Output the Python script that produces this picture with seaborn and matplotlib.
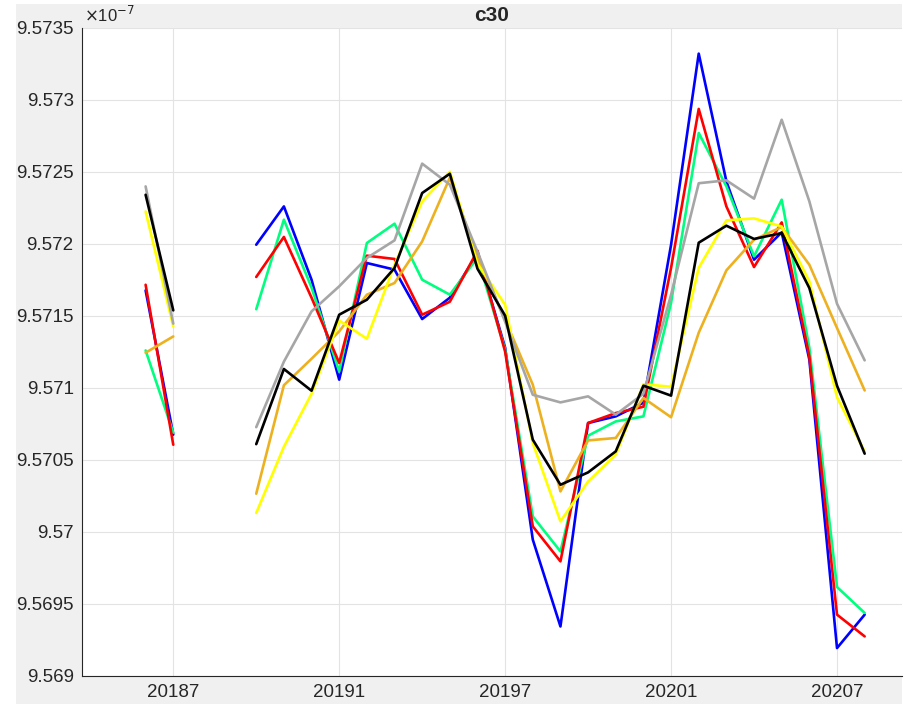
import numpy as np
import pandas as pd
import matplotlib
matplotlib.use("Agg")
import matplotlib.pyplot as plt
from matplotlib.patches import Rectangle
import seaborn as sns

# month index: 0 = 2018-07 ; two NaN months between the first pair and the rest
months = [-1, 0, 1, 2] + list(range(3, 26))
nan = np.nan

blue = [9.571678, 9.570676, nan, nan,
        9.571995, 9.572261, 9.571752, 9.571058, 9.571868, 9.571822, 9.571479,
        9.571627, 9.571933, 9.571280, 9.569947, 9.569344, 9.570757, 9.570803,
        9.570898, 9.571995, 9.573322, 9.572435, 9.571891, 9.572081, 9.571197,
        9.569194, 9.569426]
green = [9.571261, 9.570690, nan, nan,
         9.571547, 9.572169, 9.571697, 9.571115, 9.572007, 9.572141, 9.571752,
         9.571648, 9.571905, 9.571266, 9.570108, 9.569865, 9.570669, 9.570768,
         9.570803, 9.571592, 9.572771, 9.572400, 9.571914, 9.572308, 9.571280,
         9.569618, 9.569438]
red = [9.571717, 9.570606, nan, nan,
       9.571771, 9.572049, 9.571627, 9.571174, 9.571919, 9.571896, 9.571509,
       9.571599, 9.571953, 9.571252, 9.570039, 9.569796, 9.570757, 9.570826,
       9.570870, 9.571835, 9.572938, 9.572261, 9.571840, 9.572150, 9.571219,
       9.569426, 9.569275]
orange = [9.571245, 9.571358, nan, nan,
          9.570266, 9.571019, 9.571203, 9.571393, 9.571648, 9.571729, 9.572018,
          9.572460, 9.571905, 9.571474, 9.571023, 9.570282, 9.570636, 9.570653,
          9.570931, 9.570797, 9.571384, 9.571817, 9.572030, 9.572118, 9.571856,
          9.571417, 9.570983]
yellow = [9.572226, 9.571428, nan, nan,
          9.570132, 9.570592, 9.570960, 9.571469, 9.571342, 9.571856, 9.572296,
          9.572502, 9.571863, 9.571578, 9.570618, 9.570074, 9.570351, 9.570537,
          9.571026, 9.571009, 9.571835, 9.572164, 9.572178, 9.572122, 9.571740,
          9.570936, 9.570558]
gray = [9.572400, 9.571447, nan, nan,
        9.570728, 9.571183, 9.571532, 9.571706, 9.571903, 9.572025, 9.572558,
        9.572412, 9.571947, 9.571460, 9.570953, 9.570900, 9.570942, 9.570815,
        9.570960, 9.571648, 9.572422, 9.572442, 9.572315, 9.572863, 9.572296,
        9.571585, 9.571192]
black = [9.572342, 9.571539, nan, nan,
         9.570610, 9.571132, 9.570981, 9.571509, 9.571613, 9.571833, 9.572354,
         9.572488, 9.571828, 9.571502, 9.570641, 9.570328, 9.570414, 9.570560,
         9.571016, 9.570947, 9.572009, 9.572127, 9.572035, 9.572076, 9.571694,
         9.571016, 9.570544]

xtick_pos = [0, 6, 12, 18, 24]
xtick_labels = ["20187", "20191", "20197", "20201", "20207"]
ytick_vals = [9.569, 9.5695, 9.570, 9.5705, 9.571, 9.5715, 9.572, 9.5725, 9.573, 9.5735]
ytick_labels = ["9.569", "9.5695", "9.57", "9.5705", "9.571", "9.5715",
                "9.572", "9.5725", "9.573", "9.5735"]

series = {"blue": blue, "green": green, "red": red, "orange": orange,
          "yellow": yellow, "gray": gray, "black": black}
palette = {"blue": "#0000ff", "green": "#00ff7f", "red": "#ff0000",
           "orange": "#edb120", "yellow": "#ffff00", "gray": "#a6a6a6",
           "black": "#000000"}

rows = []
for name, vals in series.items():
    for m, v in zip(months, vals):
        rows.append({"month": m, "value": v, "series": name,
                     "seg": 0 if m <= 0 else 1})
df = pd.DataFrame(rows).dropna()

sns.set_style("white")
plt.rcParams["font.family"] = ["Liberation Sans", "DejaVu Sans"]

fig = plt.figure(figsize=(9.06, 7.04), dpi=100, facecolor="white")
fig.patches.append(Rectangle((16 / 906, 0), 886 / 906, 700 / 704,
                             transform=fig.transFigure, facecolor="#f0f0f0",
                             edgecolor="none", zorder=-10))
ax = fig.add_axes([82 / 906, 28 / 704, 820 / 906, 648 / 704])
ax.set_facecolor("white")

sns.lineplot(data=df, x="month", y="value", hue="series", units="seg",
             estimator=None, hue_order=list(series.keys()), palette=palette,
             linewidth=1.9, legend=False, ax=ax)

ax.set_xlim(-3.3, 26.35)
ax.set_ylim(9.569, 9.5735)
ax.set_xticks(xtick_pos)
ax.set_xticklabels(xtick_labels)
ax.set_yticks(ytick_vals)
ax.set_yticklabels(ytick_labels)
ax.set_xlabel("")
ax.set_ylabel("")
ax.grid(True, color="#e3e3e3", linewidth=0.8)
ax.set_axisbelow(True)
ax.tick_params(direction="in", length=5, width=0.8, colors="#262626",
               labelsize=13.5, pad=6)
for s in ["top", "right"]:
    ax.spines[s].set_visible(False)
for s in ["left", "bottom"]:
    ax.spines[s].set_color("#262626")
    ax.spines[s].set_linewidth(0.8)

ax.set_title("c30", fontsize=15, fontweight="bold", pad=5)
ax.text(0.002, 1.004, r"$\times$10$^{-7}$", transform=ax.transAxes,
        ha="left", va="bottom", fontsize=12, color="#262626")

fig.savefig("out.png", dpi=100, facecolor=fig.get_facecolor())
